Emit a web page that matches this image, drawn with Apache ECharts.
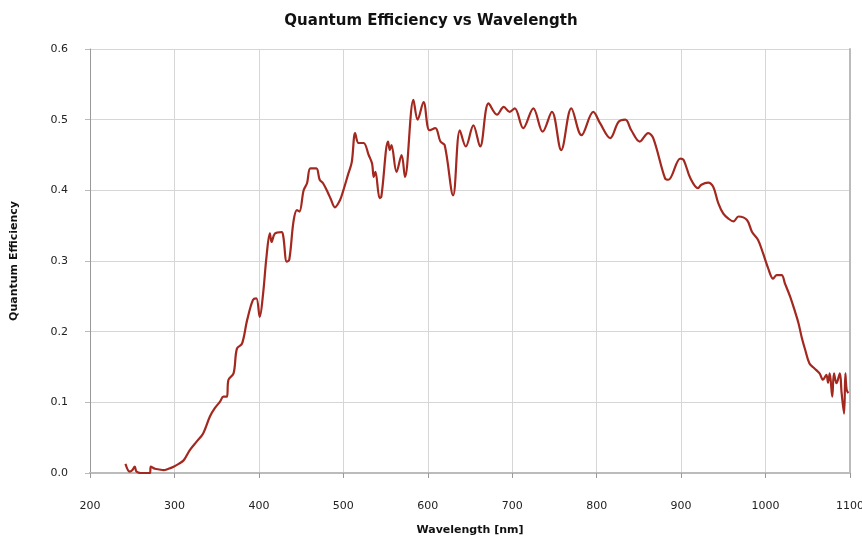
<!DOCTYPE html>
<html>
<head>
<meta charset="utf-8">
<script src="https://cdn.jsdelivr.net/npm/echarts@6/dist/echarts.min.js"></script>
<style>
  html, body { margin: 0; padding: 0; background: #fff; }
  #chart { width: 862px; height: 538px; }
</style>
</head>
<body>
<div id="chart"></div>
<script>
// wavelength [nm]
const wavelengths = [
  242, 247, 250, 253, 255, 260, 265, 271, 272, 277, 282, 287, 293, 299, 305, 311, 318, 326, 334, 342,
  348, 354, 358, 362, 364, 370, 374, 380, 386, 393, 397, 401, 405, 409, 413, 415, 419, 427, 429, 433,
  436, 441, 445, 448, 453, 457, 461, 468, 472, 476, 482, 485, 490, 496, 500, 506, 510, 514, 518, 524,
  530, 534, 536, 538, 543, 545, 553, 555, 557, 563, 569, 573, 583, 588, 595, 602, 609, 615, 620, 630,
  638, 645, 654, 662, 672, 682, 690, 697, 703, 713, 725, 736, 747, 758, 770, 782, 796, 804, 816, 826,
  834, 841, 851, 861, 867, 881, 885, 899, 903, 911, 920, 924, 932, 938, 944, 950, 956, 962, 968, 978,
  984, 991, 997, 1003, 1009, 1013, 1019, 1023, 1029, 1035, 1039, 1043, 1047, 1052, 1058, 1064, 1068, 1072, 1074, 1076,
  1079, 1081, 1084, 1088, 1090, 1093, 1094.5, 1096, 1098
]
// quantum efficiency at each wavelength
const qe = [
  0.013, 0.002, 0.004, 0.009, 0.002, 0.000, 0.000, 0.000, 0.009, 0.006, 0.005, 0.004, 0.006, 0.009, 0.013, 0.018, 0.032, 0.044, 0.056, 0.080,
  0.092, 0.101, 0.108, 0.108, 0.132, 0.141, 0.176, 0.183, 0.216, 0.245, 0.247, 0.221, 0.254, 0.306, 0.339, 0.327, 0.339, 0.341, 0.334, 0.299,
  0.302, 0.356, 0.372, 0.370, 0.400, 0.410, 0.431, 0.431, 0.415, 0.410, 0.396, 0.388, 0.376, 0.386, 0.400, 0.424, 0.440, 0.481, 0.467, 0.467,
  0.450, 0.438, 0.419, 0.426, 0.389, 0.391, 0.469, 0.457, 0.464, 0.426, 0.450, 0.419, 0.528, 0.500, 0.525, 0.485, 0.488, 0.469, 0.464, 0.393,
  0.485, 0.462, 0.492, 0.462, 0.523, 0.507, 0.518, 0.511, 0.516, 0.488, 0.516, 0.483, 0.511, 0.457, 0.516, 0.478, 0.511, 0.495, 0.474, 0.497,
  0.500, 0.485, 0.469, 0.481, 0.474, 0.417, 0.415, 0.445, 0.443, 0.417, 0.403, 0.408, 0.411, 0.405, 0.382, 0.367, 0.360, 0.356, 0.363, 0.358,
  0.341, 0.330, 0.311, 0.290, 0.275, 0.280, 0.280, 0.268, 0.250, 0.228, 0.212, 0.191, 0.174, 0.155, 0.148, 0.141, 0.132, 0.139, 0.128, 0.141,
  0.108, 0.141, 0.127, 0.141, 0.114, 0.084, 0.141, 0.118, 0.113
]

const chart = echarts.init(document.getElementById('chart'))

const font = 'DejaVu Sans, Verdana, sans-serif'
const gridGray = '#d6d6d6'

const option = {
  animation: false,
  title: {
    text: 'Quantum Efficiency vs Wavelength',
    left: 'center',
    top: 9,
    textStyle: { fontFamily: font, fontSize: 15, fontWeight: 'bold', color: '#111' }
  },
  grid: { left: 90, right: 12, top: 49, bottom: 65, outerBoundsMode: 'none' },
  xAxis: [
    {
      type: 'value',
      min: 200,
      max: 1100,
      interval: 100,
      name: 'Wavelength [nm]',
      nameLocation: 'middle',
      nameGap: 52,
      nameTextStyle: { fontFamily: font, fontSize: 11, fontWeight: 'bold', color: '#111' },
      axisLine: { show: true, lineStyle: { color: '#b4b4b4', width: 2 } },
      axisTick: { show: true, length: 5, lineStyle: { color: '#999' } },
      axisLabel: { fontFamily: font, fontSize: 11, color: '#222', margin: 28, formatter: v => String(v) },
      splitLine: { show: true, lineStyle: { color: gridGray } }
    },
    {
      // top border only
      type: 'value', position: 'top', min: 200, max: 1100,
      axisLine: { show: true, lineStyle: { color: '#bbb', width: 2 } },
      axisTick: { show: false }, axisLabel: { show: false }, splitLine: { show: false }
    }
  ],
  yAxis: [
    {
      type: 'value',
      min: 0,
      max: 0.6,
      interval: 0.1,
      name: 'Quantum Efficiency',
      nameLocation: 'middle',
      nameGap: 70,
      nameTextStyle: { fontFamily: font, fontSize: 11, fontWeight: 'bold', color: '#111' },
      axisLine: { show: true, lineStyle: { color: '#999', width: 1 } },
      axisTick: { show: true, length: 5, lineStyle: { color: '#bbb' } },
      axisLabel: { fontFamily: font, fontSize: 11, color: '#222', margin: 22, formatter: v => v.toFixed(1) },
      splitLine: { show: true, lineStyle: { color: gridGray } }
    },
    {
      // right border only
      type: 'value', position: 'right', min: 0, max: 0.6,
      axisLine: { show: true, lineStyle: { color: '#bbb', width: 2 } },
      axisTick: { show: false }, axisLabel: { show: false }, splitLine: { show: false }
    }
  ],
  series: [
    {
      type: 'line',
      data: wavelengths.map((w, i) => [w, qe[i]]),
      showSymbol: false,
      smooth: 0.35,
      lineStyle: { color: '#a3281f', width: 2.2 },
      z: 5
    }
  ]
}

chart.setOption(option)
window.addEventListener('resize', () => chart.resize())
</script>
</body>
</html>
